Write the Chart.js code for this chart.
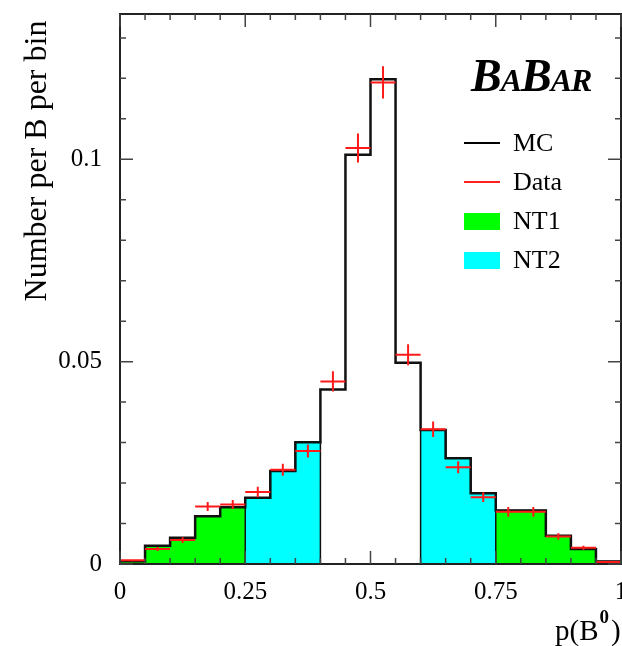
<!DOCTYPE html>
<html>
<head>
<meta charset="utf-8">
<script src="https://cdn.jsdelivr.net/npm/chart.js@4.4.1/dist/chart.umd.min.js"></script>
<style>
  html, body { margin: 0; padding: 0; background: #fff; }
  #wrap { width: 622px; height: 646px; }
</style>
</head>
<body>
<div id="wrap"><canvas id="histo" width="622" height="646"></canvas></div>
<script>
// p(B0) bins (20 bins of 0.05)
const edges = [0, 0.05, 0.1, 0.15, 0.2, 0.25, 0.3, 0.35, 0.4, 0.45, 0.5,
               0.55, 0.6, 0.65, 0.7, 0.75, 0.8, 0.85, 0.9, 0.95, 1];
const mcValues = [0.0007, 0.0045, 0.0065, 0.0118, 0.0140, 0.0164, 0.0230, 0.0301, 0.0431, 0.1011,
                  0.1198, 0.0497, 0.0331, 0.0261, 0.0175, 0.0132, 0.0132, 0.0070, 0.0037, 0.0006];
const dataValues = [0.0009, 0.0037, 0.0059, 0.0142, 0.0147, 0.0178, 0.0233, 0.0279, 0.0451, 0.1028,
                    0.1190, 0.0517, 0.0333, 0.0239, 0.0165, 0.0129, 0.0129, 0.0068, 0.0040, 0.0005];
const dataErrors = [0.0003, 0.0005, 0.0007, 0.0011, 0.0011, 0.0013, 0.0015, 0.0016, 0.0025, 0.0036,
                    0.0040, 0.0026, 0.0019, 0.0015, 0.0012, 0.0012, 0.0012, 0.0008, 0.0005, 0.0003];
// which tagging category each bin belongs to
const binRegion = ['NT1', 'NT1', 'NT1', 'NT1', 'NT1', 'NT2', 'NT2', 'NT2', '', '',
                   '', '', 'NT2', 'NT2', 'NT2', 'NT1', 'NT1', 'NT1', 'NT1', 'NT1'];
const xTicks = [0, 0.25, 0.5, 0.75, 1];
const xTickLabels = ['0', '0.25', '0.5', '0.75', '1'];
const yTicks = [0, 0.05, 0.1];
const yTickLabels = ['0', '0.05', '0.1'];

const SERIF = '"Liberation Serif", "DejaVu Serif", serif';

// stepped points: one per bin edge, last edge repeats last bin
function stepPoints(values) {
  return edges.map((x, i) => ({ x: x, y: values[Math.min(i, values.length - 1)] }));
}
function regionValues(name) {
  return mcValues.map((v, i) => binRegion[i] === name ? v : 0);
}

const legendItems = [
  { label: 'MC', type: 'line', color: '#000000' },
  { label: 'Data', type: 'line', color: '#ff2020' },
  { label: 'NT1', type: 'box', color: '#00ff00' },
  { label: 'NT2', type: 'box', color: '#00ffff' }
];

const decor = {
  id: 'decor',
  afterDatasetsDraw(chart) {
    const ctx = chart.ctx;
    const xs = chart.scales.x, ys = chart.scales.y;
    const a = chart.chartArea;
    ctx.save();

    // data points with error bars
    ctx.strokeStyle = '#ff1a1a';
    ctx.lineWidth = 2;
    dataValues.forEach((v, i) => {
      const x0 = xs.getPixelForValue(edges[i]);
      const x1 = xs.getPixelForValue(edges[i + 1]);
      const xc = xs.getPixelForValue((edges[i] + edges[i + 1]) / 2);
      const y = ys.getPixelForValue(v);
      const yl = ys.getPixelForValue(v - dataErrors[i]);
      const yh = ys.getPixelForValue(v + dataErrors[i]);
      ctx.beginPath();
      ctx.moveTo(x0, y); ctx.lineTo(x1, y);
      ctx.moveTo(xc, yl); ctx.lineTo(xc, yh);
      ctx.stroke();
    });

    // frame
    ctx.strokeStyle = '#222';
    ctx.lineWidth = 2;
    ctx.strokeRect(a.left, a.top, a.right - a.left, a.bottom - a.top);

    // ticks, pointing inwards on all four sides
    ctx.lineWidth = 1.5;
    ctx.strokeStyle = '#444';
    ctx.beginPath();
    for (let k = 0; k <= 20; k++) {
      const px = xs.getPixelForValue(k * 0.05);
      const len = (k % 5 === 0) ? 13 : 6;
      ctx.moveTo(px, a.bottom); ctx.lineTo(px, a.bottom - len);
      ctx.moveTo(px, a.top); ctx.lineTo(px, a.top + len);
    }
    for (let k = 0; k <= 13; k++) {
      const py = ys.getPixelForValue(k * 0.01);
      const len = (k % 5 === 0) ? 13 : 6;
      ctx.moveTo(a.left, py); ctx.lineTo(a.left + len, py);
      ctx.moveTo(a.right, py); ctx.lineTo(a.right - len, py);
    }
    ctx.stroke();

    // legend
    ctx.textBaseline = 'middle';
    ctx.textAlign = 'left';
    ctx.font = '26px ' + SERIF;
    legendItems.forEach((it, i) => {
      const y = 143 + i * 39;
      if (it.type === 'line') {
        ctx.strokeStyle = it.color;
        ctx.lineWidth = 2;
        ctx.beginPath();
        ctx.moveTo(464, y); ctx.lineTo(500, y);
        ctx.stroke();
      } else {
        ctx.fillStyle = it.color;
        ctx.fillRect(464, y - 8, 36, 17);
      }
      ctx.fillStyle = '#000';
      ctx.fillText(it.label, 513, y + 1);
    });

    // BaBar logo
    ctx.textBaseline = 'alphabetic';
    ctx.fillStyle = '#000';
    let lx = 471;
    [['B', 46], ['A', 32], ['B', 46], ['A', 32], ['R', 32]].forEach(([ch, sz]) => {
      ctx.font = 'italic bold ' + sz + 'px ' + SERIF;
      ctx.fillText(ch, lx, 91);
      lx += ctx.measureText(ch).width - 1;
    });

    // y axis title
    ctx.save();
    ctx.translate(46, 161);
    ctx.rotate(-Math.PI / 2);
    ctx.textAlign = 'center';
    ctx.font = '32px ' + SERIF;
    ctx.fillText('Number per B per bin', 0, 0);
    ctx.restore();

    // x axis title p(B^0)
    ctx.font = '29px ' + SERIF;
    ctx.textAlign = 'left';
    let tx = 555;
    ctx.fillText('p(B', tx, 640);
    tx += ctx.measureText('p(B').width + 1;
    ctx.font = 'bold 19px ' + SERIF;
    ctx.fillText('0', tx, 623);
    tx += ctx.measureText('0').width + 2;
    ctx.font = '29px ' + SERIF;
    ctx.fillText(')', tx, 640);

    ctx.restore();
  }
};

new Chart(document.getElementById('histo'), {
  type: 'line',
  data: {
    datasets: [
      {
        label: 'NT1',
        data: stepPoints(regionValues('NT1')),
        stepped: true,
        fill: 'origin',
        backgroundColor: '#00ff00',
        borderColor: '#111',
        borderWidth: 1.5,
        pointRadius: 0,
        order: 3
      },
      {
        label: 'NT2',
        data: stepPoints(regionValues('NT2')),
        stepped: true,
        fill: 'origin',
        backgroundColor: '#00ffff',
        borderColor: '#111',
        borderWidth: 1.5,
        pointRadius: 0,
        order: 3
      },
      {
        label: 'MC',
        data: stepPoints(mcValues),
        stepped: true,
        fill: false,
        borderColor: '#111',
        borderWidth: 2.5,
        pointRadius: 0,
        order: 2
      }
    ]
  },
  options: {
    responsive: false,
    animation: false,
    events: [],
    layout: { padding: { top: 14, right: 1, left: 0, bottom: 0 } },
    plugins: {
      legend: { display: false },
      tooltip: { enabled: false }
    },
    scales: {
      x: {
        type: 'linear',
        min: 0,
        max: 1,
        grid: { display: false, drawTicks: false },
        border: { display: false },
        afterBuildTicks: s => { s.ticks = xTicks.map(v => ({ value: v })); },
        afterFit: s => { s.height = 82; s.paddingLeft = 0; s.paddingRight = 0; },
        ticks: {
          autoSkip: false,
          maxRotation: 0,
          padding: 13,
          color: '#000',
          font: { family: SERIF, size: 25 },
          callback: v => xTickLabels[xTicks.indexOf(v)]
        }
      },
      y: {
        type: 'linear',
        min: 0,
        max: 0.1359,
        grid: { display: false, drawTicks: false },
        border: { display: false },
        afterBuildTicks: s => { s.ticks = yTicks.map(v => ({ value: v })); },
        afterFit: s => { s.width = 120; s.paddingTop = 0; s.paddingBottom = 0; },
        ticks: {
          autoSkip: false,
          padding: 18,
          color: '#000',
          font: { family: SERIF, size: 25 },
          callback: v => yTickLabels[yTicks.indexOf(v)]
        }
      }
    }
  },
  plugins: [decor]
});
</script>
</body>
</html>
